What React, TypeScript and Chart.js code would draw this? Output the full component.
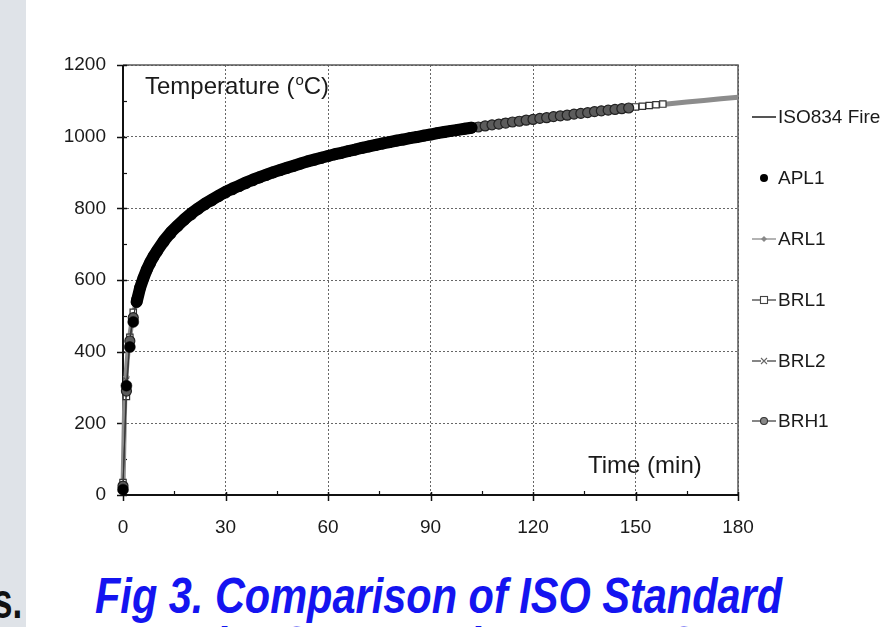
import React, { useEffect, useRef } from "react";
import { Chart, registerables } from "chart.js";

Chart.register(...registerables);

// ---- tick / label data ----
const xTicks = [0, 30, 60, 90, 120, 150, 180];
const yTicks = [0, 200, 400, 600, 800, 1000, 1200];
const xMinor = [15, 45, 75, 105, 135, 165];
const yMinor = [100, 300, 500, 700, 900, 1100];
const legendLabels = ["ISO834 Fire", "APL1", "ARL1", "BRL1", "BRL2", "BRH1"];

// ---- ISO834 standard fire curve ----
const isoTime = [0, 0.5, 1, 1.5, 2, 2.5, 3, 4, 5, 6, 7, 8, 9, 10, 12, 15, 20, 25, 30, 35, 40, 45, 50, 55, 60, 65, 70, 75, 80, 85, 90, 95, 100, 105, 110, 115, 120, 125, 130, 135, 140, 145, 150, 155, 160, 165, 170, 175, 180];
const isoTemp = [20, 261, 349, 404, 445, 476, 502, 544, 576, 603, 626, 645, 663, 678, 705, 739, 781, 815, 842, 865, 885, 902, 918, 932, 945, 957, 968, 979, 988, 997, 1006, 1014, 1022, 1029, 1036, 1043, 1049, 1055, 1061, 1067, 1072, 1077, 1082, 1087, 1092, 1097, 1101, 1106, 1110];

// ---- APL1 ----
const aplTime = [0, 1, 2, 3, 4, 5, 6, 7, 8, 9, 10, 12, 14, 16, 18, 20, 22, 24, 26, 28, 30, 32, 34, 36, 38, 40, 42, 44, 46, 48, 50, 52, 54, 56, 58, 60, 62, 64, 66, 68, 70, 72, 74, 76, 78, 80, 82, 84, 86, 88, 90, 92, 94, 96, 98, 100, 102];
const aplTemp = [15, 305, 413, 483, 539, 578, 606, 630, 650, 667, 682, 710, 733, 752, 770, 786, 800, 813, 824, 835, 846, 855, 863, 872, 880, 887, 894, 901, 907, 913, 919, 925, 931, 936, 941, 946, 951, 955, 960, 964, 969, 973, 977, 981, 985, 989, 992, 996, 999, 1003, 1006, 1010, 1013, 1016, 1019, 1022, 1025];

// ---- BRL1 / BRH1 (shared time base) ----
const brTime = [0, 1, 2, 3, 4, 5, 6, 7, 8, 9, 10, 12, 14, 16, 18, 20, 22, 24, 26, 28, 30, 32, 34, 36, 38, 40, 42, 44, 46, 48, 50, 52, 54, 56, 58, 60, 62, 64, 66, 68, 70, 72, 74, 76, 78, 80, 82, 84, 86, 88, 90, 92, 94, 96, 98, 100, 102, 104, 106, 108, 110, 112, 114, 116, 118, 120, 122, 124, 126, 128, 130, 132, 134, 136, 138, 140, 142, 144, 146, 148, 150, 152, 154, 156, 158];
const brl1Temp = [35, 275, 440, 510, 550, 582, 607, 629, 648, 665, 680, 707, 730, 750, 768, 783, 798, 811, 822, 834, 844, 853, 862, 870, 878, 886, 893, 900, 906, 913, 919, 925, 930, 936, 941, 946, 951, 956, 960, 965, 969, 973, 978, 982, 986, 989, 993, 997, 1000, 1004, 1007, 1010, 1014, 1017, 1020, 1023, 1026, 1029, 1031, 1034, 1037, 1040, 1042, 1045, 1048, 1050, 1053, 1055, 1057, 1060, 1062, 1064, 1067, 1069, 1071, 1073, 1075, 1077, 1079, 1081, 1083, 1085, 1087, 1089, 1091];
const brh1Temp = [25, 290, 430, 495, 545, 579, 604, 627, 646, 664, 679, 706, 729, 749, 767, 782, 797, 810, 821, 833, 843, 852, 861, 869, 877, 885, 892, 899, 906, 912, 918, 924, 930, 935, 940, 945, 950, 955, 959, 964, 968, 972, 976, 980, 984, 988, 992, 996, 999, 1002, 1006, 1009, 1012, 1016, 1019, 1022, 1025, 1027, 1030, 1033, 1035, 1038, 1041, 1043, 1046, 1048, 1051, 1053, 1056, 1058, 1060, 1063, 1065, 1067, 1070, 1072, 1074, 1076, 1078, 1080];

// ---- ARL1 / BRL2 (shared time base) ----
const arTime = [0, 1, 2, 3, 4, 5, 6, 8, 10, 15, 20, 25, 30, 35, 40, 45, 50, 55, 60, 65, 70, 75, 80, 85, 90, 95, 100, 105, 110, 115, 120];
const arl1Temp = [20, 330, 440, 500, 545, 577, 604, 646, 679, 740, 782, 816, 843, 866, 886, 903, 919, 933, 946, 958, 969, 980, 989, 998, 1007, 1015, 1023, 1030, 1037, 1044, 1050];
const brl2Temp = [18, 320, 430, 495, 542, 575, 602, 644, 677, 738, 780, 814, 841, 864, 884, 901, 917, 931, 944, 956, 967, 978, 988, 997, 1005, 1013, 1021, 1029, 1036, 1043, 1049];

const pts = (t: number[], v: number[]) => v.map((y, i) => ({ x: t[i], y }));

const FONT = '"Liberation Sans", Arial, sans-serif';
const TXT = "#1a1a1a";

const overlay = {
  id: "overlay",
  beforeDatasetsDraw(chart: any) {
    const { ctx, chartArea: a, scales } = chart;
    const x = scales.x;
    const y = scales.y;
    ctx.save();
    ctx.strokeStyle = "#5a5a5a";
    ctx.lineWidth = 1.5;
    ctx.beginPath();
    ctx.moveTo(a.left, a.top);
    ctx.lineTo(a.right, a.top);
    ctx.lineTo(a.right, a.bottom);
    ctx.stroke();
    ctx.strokeStyle = "#111";
    ctx.lineWidth = 2;
    ctx.beginPath();
    ctx.moveTo(a.left, a.top);
    ctx.lineTo(a.left, a.bottom);
    ctx.lineTo(a.right, a.bottom);
    ctx.stroke();
    ctx.lineWidth = 1.5;
    yTicks.forEach((v) => {
      const py = Math.round(y.getPixelForValue(v)) + 0.5;
      ctx.beginPath();
      ctx.moveTo(a.left - 6, py);
      ctx.lineTo(a.left + 4, py);
      ctx.stroke();
    });
    xTicks.forEach((v) => {
      const px = Math.round(x.getPixelForValue(v)) + 0.5;
      ctx.beginPath();
      ctx.moveTo(px, a.bottom - 3);
      ctx.lineTo(px, a.bottom + 6);
      ctx.stroke();
    });
    ctx.lineWidth = 1.2;
    yMinor.forEach((v) => {
      const py = Math.round(y.getPixelForValue(v)) + 0.5;
      ctx.beginPath();
      ctx.moveTo(a.left, py);
      ctx.lineTo(a.left + 4, py);
      ctx.stroke();
    });
    xMinor.forEach((v) => {
      const px = Math.round(x.getPixelForValue(v)) + 0.5;
      ctx.beginPath();
      ctx.moveTo(px, a.bottom);
      ctx.lineTo(px, a.bottom - 4);
      ctx.stroke();
    });
    ctx.restore();
  },
  afterDraw(chart: any) {
    const { ctx } = chart;
    ctx.save();
    ctx.fillStyle = TXT;
    ctx.textAlign = "left";
    ctx.textBaseline = "alphabetic";
    ctx.font = `24px ${FONT}`;
    const t1 = "Temperature (";
    ctx.fillText(t1, 145, 94);
    let xx = 145 + ctx.measureText(t1).width;
    ctx.font = `15px ${FONT}`;
    ctx.fillText("o", xx + 1, 85);
    xx += ctx.measureText("o").width + 1;
    ctx.font = `24px ${FONT}`;
    ctx.fillText("C)", xx, 94);
    ctx.fillText("Time (min)", 588, 473);

    const rows = [117, 178, 239, 300, 361, 421];
    const x0 = 752, x1 = 776, xc = 764;
    rows.forEach((ry, i) => {
      ctx.save();
      if (i === 0) {
        ctx.strokeStyle = "#555";
        ctx.lineWidth = 2;
        ctx.beginPath(); ctx.moveTo(x0, ry); ctx.lineTo(x1, ry); ctx.stroke();
      } else if (i === 1) {
        ctx.fillStyle = "#000";
        ctx.beginPath(); ctx.arc(xc, ry, 4, 0, Math.PI * 2); ctx.fill();
      } else {
        ctx.strokeStyle = i === 2 ? "#8a8a8a" : "#444";
        ctx.lineWidth = 1.3;
        ctx.beginPath(); ctx.moveTo(x0, ry); ctx.lineTo(x1, ry); ctx.stroke();
        if (i === 2) {
          ctx.fillStyle = "#888";
          ctx.beginPath();
          ctx.moveTo(xc, ry - 3); ctx.lineTo(xc + 3, ry); ctx.lineTo(xc, ry + 3); ctx.lineTo(xc - 3, ry);
          ctx.closePath(); ctx.fill();
        } else if (i === 3) {
          ctx.fillStyle = "#fff";
          ctx.fillRect(xc - 3.5, ry - 3.5, 7, 7);
          ctx.strokeStyle = "#444";
          ctx.lineWidth = 1.1;
          ctx.strokeRect(xc - 3.5, ry - 3.5, 7, 7);
        } else if (i === 4) {
          ctx.fillStyle = "#fff";
          ctx.fillRect(xc - 3, ry - 3, 6, 6);
          ctx.strokeStyle = "#666";
          ctx.lineWidth = 1.1;
          ctx.beginPath();
          ctx.moveTo(xc - 3, ry - 3); ctx.lineTo(xc + 3, ry + 3);
          ctx.moveTo(xc + 3, ry - 3); ctx.lineTo(xc - 3, ry + 3);
          ctx.stroke();
        } else {
          ctx.fillStyle = "#888";
          ctx.strokeStyle = "#333";
          ctx.lineWidth = 1.1;
          ctx.beginPath(); ctx.arc(xc, ry, 3.5, 0, Math.PI * 2); ctx.fill(); ctx.stroke();
        }
      }
      ctx.restore();
      ctx.font = `19px ${FONT}`;
      ctx.fillStyle = TXT;
      ctx.textBaseline = "middle";
      ctx.fillText(legendLabels[i], 778, ry + 1);
    });
    ctx.restore();
  },
};

export default function App() {
  const ref = useRef<HTMLCanvasElement | null>(null);

  useEffect(() => {
    if (!ref.current) return;
    Chart.defaults.font.family = FONT;
    const chart = new Chart(ref.current, {
      type: "scatter",
      data: {
        datasets: [
          {
            label: legendLabels[1],
            data: pts(aplTime, aplTemp),
            showLine: true,
            borderWidth: 12,
            borderColor: "#000",
            borderCapStyle: "round",
            borderJoinStyle: "round",
            segment: {
              borderColor: (c: any) => (c.p0.parsed.x >= 4 ? "#000" : "rgba(0,0,0,0)"),
            },
            pointRadius: 5.5,
            pointBackgroundColor: "#000",
            pointBorderColor: "#000",
            pointBorderWidth: 0.5,
            order: 0,
            clip: false,
          },
          {
            label: legendLabels[5],
            data: pts(brTime, brh1Temp),
            showLine: true,
            borderColor: "#333",
            borderWidth: 1,
            pointStyle: "circle",
            pointRadius: 5,
            pointBackgroundColor: "#5c5c5c",
            pointBorderColor: "#222",
            pointBorderWidth: 1.2,
            order: 1,
            clip: false,
          },
          {
            label: legendLabels[4],
            data: pts(arTime, brl2Temp),
            showLine: true,
            borderColor: "#555",
            borderWidth: 1,
            pointStyle: "crossRot",
            pointRadius: 4,
            pointBorderColor: "#555",
            pointBorderWidth: 1.1,
            order: 2,
            clip: false,
          },
          {
            label: legendLabels[3],
            data: pts(brTime, brl1Temp),
            showLine: true,
            borderColor: "#444",
            borderWidth: 1,
            pointStyle: "rect",
            pointRadius: 4.5,
            pointBackgroundColor: "#fff",
            pointBorderColor: "#333",
            pointBorderWidth: 1.2,
            order: 3,
            clip: false,
          },
          {
            label: legendLabels[2],
            data: pts(arTime, arl1Temp),
            showLine: true,
            borderColor: "#8a8a8a",
            borderWidth: 1.5,
            pointStyle: "rectRot",
            pointRadius: 2.5,
            pointBackgroundColor: "#888",
            pointBorderColor: "#888",
            order: 4,
            clip: false,
          },
          {
            label: legendLabels[0],
            data: pts(isoTime, isoTemp),
            showLine: true,
            borderColor: "#8c8c8c",
            borderWidth: 5,
            pointRadius: 0,
            tension: 0,
            order: 5,
            clip: false,
          },
        ],
      },
      options: {
        animation: false,
        responsive: false,
        devicePixelRatio: 1,
        layout: { padding: { left: 0, right: 151, top: 65, bottom: 0 } },
        plugins: {
          legend: { display: false },
          tooltip: { enabled: false },
        },
        scales: {
          x: {
            type: "linear",
            min: 0,
            max: 180,
            afterBuildTicks: (s: any) => {
              s.ticks = xTicks.map((v) => ({ value: v }));
            },
            afterFit: (s: any) => {
              s.height = 65;
            },
            ticks: {
              font: { size: 19 },
              color: TXT,
              padding: 21,
              maxRotation: 0,
              callback: (v: any) => String(v),
            },
            grid: { drawTicks: false, color: "#666", lineWidth: 1 },
            border: { display: false, dash: [2, 2] },
          },
          y: {
            type: "linear",
            min: 0,
            max: 1200,
            afterBuildTicks: (s: any) => {
              s.ticks = yTicks.map((v) => ({ value: v }));
            },
            afterFit: (s: any) => {
              s.width = 123;
            },
            ticks: {
              font: { size: 19 },
              color: TXT,
              padding: 17,
              callback: (v: any) => String(v),
            },
            grid: { drawTicks: false, color: "#666", lineWidth: 1 },
            border: { display: false, dash: [2, 2] },
          },
        },
      },
      plugins: [overlay],
    } as any);
    return () => chart.destroy();
  }, []);

  return (
    <div
      style={{
        position: "fixed",
        left: 0,
        top: 0,
        width: 889,
        height: 627,
        overflow: "hidden",
        background: "#fff",
      }}
    >
      <div
        style={{
          position: "absolute",
          left: 0,
          top: 0,
          width: 26,
          height: 627,
          background: "#dfe3e8",
        }}
      />
      <canvas
        ref={ref}
        width={889}
        height={560}
        style={{ position: "absolute", left: 0, top: 0, width: 889, height: 560 }}
      />
      <div
        style={{
          position: "absolute",
          left: -7,
          top: 576,
          font: `bold 50px ${FONT}`,
          lineHeight: "50px",
          color: "#111",
          whiteSpace: "nowrap",
          transform: "scaleX(0.7)",
          transformOrigin: "left top",
        }}
      >
        s.
      </div>
      <div
        style={{
          position: "absolute",
          left: 95,
          top: 571,
          font: `italic bold 50px ${FONT}`,
          lineHeight: "50px",
          color: "#1414f0",
          whiteSpace: "nowrap",
          transform: "scaleX(0.83)",
          transformOrigin: "left top",
        }}
      >
        Fig 3. Comparison of ISO Standard
      </div>
      <div
        style={{
          position: "absolute",
          left: 190,
          top: 620,
          font: `italic bold 50px ${FONT}`,
          lineHeight: "50px",
          color: "#1414f0",
          whiteSpace: "nowrap",
          transform: "scaleX(0.83)",
          transformOrigin: "left top",
        }}
      >
        Fire Curve and Furnace Curve
      </div>
    </div>
  );
}
